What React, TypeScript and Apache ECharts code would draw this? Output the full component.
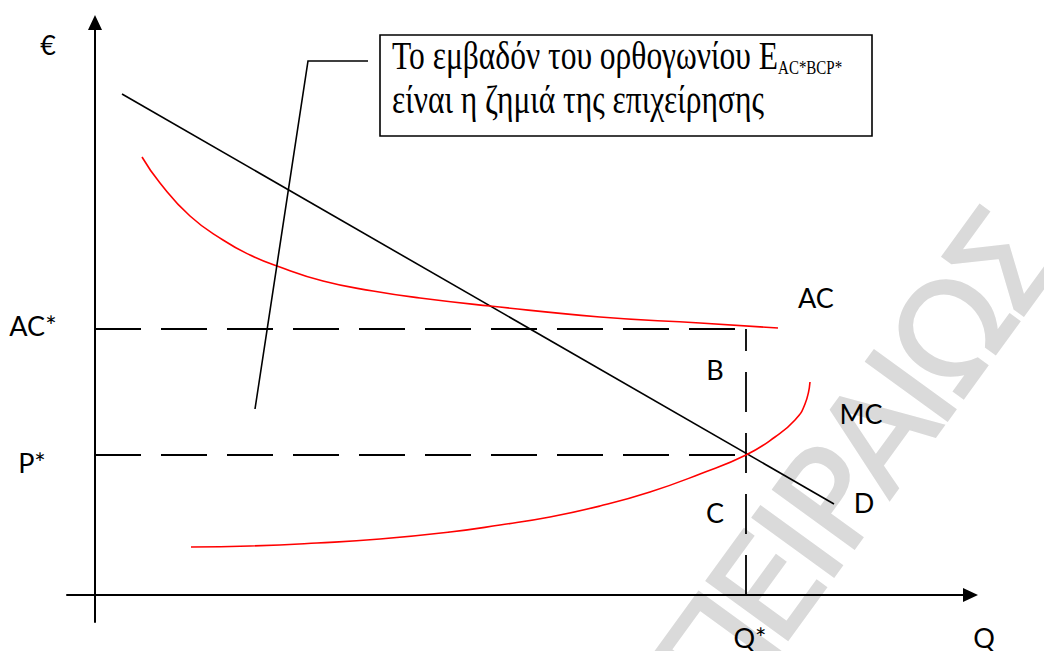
import React, { useEffect, useRef } from 'react';
import * as echarts from 'echarts';

// Demand curve (quantity, price)
const demandQ = [27, 739];
const demandP = [501, 91];
// Average cost curve
const acQ = [47, 65, 95, 128, 155, 182, 228, 278, 325, 395, 505, 605, 683];
const acC = [438, 412, 379, 355, 340, 329, 314, 304, 297, 289, 278, 272, 267];
// Marginal cost curve
const mcQ = [96, 155, 222, 285, 355, 405, 455, 505, 555, 605, 651, 680, 700, 710, 715];
const mcC = [48, 49, 52, 56, 63, 70, 78, 89, 103, 121, 140, 158, 175, 191, 213];
// Equilibrium values
const qStar = 651;
const pStar = 140;
const acStar = 266;

const watermarkText = 'ΠΕΙΡΑΙΩΣ';

const zip = (a: number[], b: number[]) => a.map((v, i) => [v, b[i]]);

export default function App() {
  const ref = useRef<HTMLDivElement>(null);
  useEffect(() => {
    if (!ref.current) return;
    const chart = echarts.init(ref.current, null, { renderer: 'svg' });

    const labelFont = '27px Lato';
    const label = (text: string, x: number, y: number) => ({
      type: 'text',
      x,
      y,
      z: 100,
      style: {
        text,
        font: labelFont,
        fill: '#000',
        textAlign: 'center',
        textVerticalAlign: 'middle',
      },
    });

    const ang = (54 * Math.PI) / 180;
    const ux = Math.cos(ang);
    const uy = -Math.sin(ang);
    const wmOffsets = [-330, -248, -193, -137, -59, 0, 68, 153];
    const wm = watermarkText.split('').map((ch, i) => ({
      type: 'text',
      x: 913 + ux * wmOffsets[i],
      y: 387 + uy * wmOffsets[i],
      rotation: ang,
      z: -10,
      style: {
        text: ch,
        font: '138px "DejaVu Sans"',
        fill: '#dadada',
        stroke: '#dadada',
        lineWidth: 2,
        textAlign: 'center',
        textVerticalAlign: 'middle',
      },
    }));

    const dashed = (data: number[][], dash: number[]) => ({
      type: 'line',
      data,
      symbol: 'none',
      clip: false,
      silent: true,
      lineStyle: { color: '#000', width: 1.8, type: dash },
      z: 3,
    });

    const curve = (q: number[], c: number[], color: string) => ({
      type: 'line',
      data: zip(q, c),
      symbol: 'none',
      smooth: 0.5,
      clip: false,
      lineStyle: { color, width: 1.6 },
      z: 5,
    });

    chart.setOption({
      animation: false,
      backgroundColor: '#fff',
      grid: { left: 67, right: 73.5, top: 22.5, bottom: 29 },
      xAxis: {
        type: 'value',
        min: -28,
        max: 875.5,
        axisLine: {
          onZero: true,
          symbol: ['none', 'triangle'],
          symbolSize: [14, 15],
          lineStyle: { color: '#000', width: 2 },
        },
        axisTick: { show: false },
        axisLabel: { show: false },
        splitLine: { show: false },
      },
      yAxis: {
        type: 'value',
        min: -27,
        max: 572.5,
        axisLine: {
          onZero: true,
          symbol: ['none', 'triangle'],
          symbolSize: [14, 15],
          lineStyle: { color: '#000', width: 2 },
        },
        axisTick: { show: false },
        axisLabel: { show: false },
        splitLine: { show: false },
      },
      series: [
        {
          type: 'line',
          name: 'D',
          data: zip(demandQ, demandP),
          symbol: 'none',
          clip: false,
          lineStyle: { color: '#000', width: 1.6 },
          z: 4,
        },
        curve(acQ, acC, '#ff0000'),
        curve(mcQ, mcC, '#ff0000'),
        dashed([[0, acStar], [qStar, acStar]], [46, 20]),
        dashed([[0, pStar], [qStar, pStar]], [46, 20]),
        dashed([[qStar, 0], [qStar, acStar]], [40, 21]),
      ],
      graphic: [
        ...wm,
        {
          type: 'polyline',
          z: 90,
          shape: { points: [[255, 409], [308, 61], [368, 61]] },
          style: { stroke: '#000', lineWidth: 1.6, fill: null },
        },
        {
          type: 'rect',
          z: 90,
          shape: { x: 380, y: 35, width: 492, height: 101 },
          style: { fill: '#fff', stroke: '#000', lineWidth: 1.6 },
        },
        {
          type: 'text',
          x: 392,
          y: 33,
          scaleY: 1.3,
          z: 101,
          style: {
            text: '{m|Το εμβαδόν του ορθογωνίου E}{s|AC*BCP*}\n{m|είναι η ζημιά της επιχείρησης}',
            textAlign: 'left',
            textVerticalAlign: 'top',
            rich: {
              m: {
                fontSize: 31.5,
                fontFamily: '"Liberation Serif"',
                lineHeight: 34,
                fill: '#000',
              },
              s: {
                fontSize: 15,
                fontFamily: '"Liberation Serif"',
                lineHeight: 21,
                verticalAlign: 'bottom',
                textVerticalAlign: 'bottom',
                fill: '#000',
              },
            },
          },
        },
        label('€', 48, 44),
        label('AC*', 33, 325),
        label('P*', 32, 462),
        label('AC', 816, 297),
        label('MC', 861, 413),
        label('B', 715, 369),
        label('C', 715, 512),
        label('D', 864, 502),
        label('Q*', 750, 637),
        label('Q', 984, 637),
      ],
    });
    return () => chart.dispose();
  }, []);
  return (
    <div
      ref={ref}
      style={{ position: 'fixed', left: 0, top: 0, width: 1044, height: 651, background: '#fff' }}
    />
  );
}
